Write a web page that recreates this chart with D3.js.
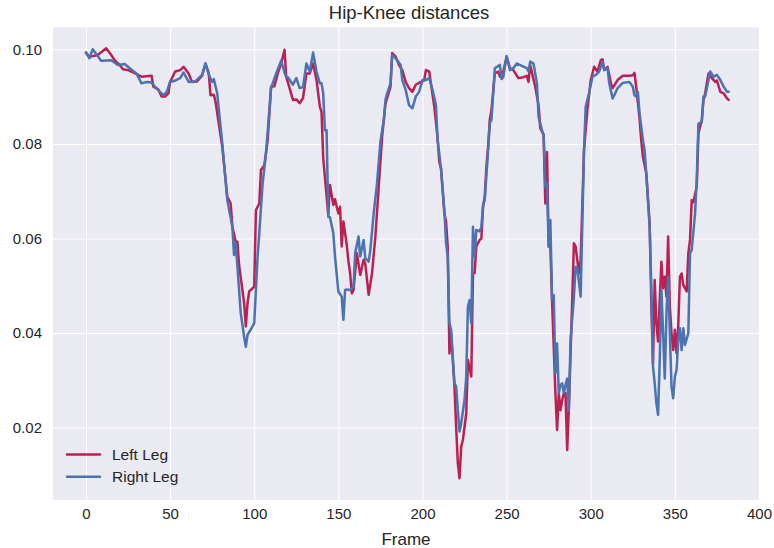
<!DOCTYPE html>
<html>
<head>
<meta charset="utf-8">
<script src="https://cdnjs.cloudflare.com/ajax/libs/d3/7.8.5/d3.min.js"></script>
<style>
  body { margin: 0; background: #fff; }
  text { font-family: "Liberation Sans", Arial, sans-serif; fill: #262626; }
</style>
</head>
<body>
<script>
// series labels + colours
var seriesNames = ["Left Leg", "Right Leg"];
var seriesColors = ["#bc2052", "#4c72b0"];

// [frame, distance]
var leftLeg = [[0,0.0993],[2,0.0984],[7,0.0988],[12,0.1002],[15,0.0988],[17,0.0977],[20,0.0967],[22,0.0958],[25,0.0956],[28,0.0951],[31,0.0946],[33,0.0942],[36,0.0943],[39,0.0944],[40,0.0921],[43,0.0915],[45,0.0900],[47,0.0900],[49,0.0907],[50,0.0931],[53,0.0953],[56,0.0956],[58,0.0963],[61,0.0949],[63,0.0931],[66,0.0932],[69,0.0944],[71,0.0970],[73,0.0949],[74,0.0903],[76,0.0904],[77,0.0889],[81,0.0794],[84,0.0688],[86,0.0674],[87,0.0625],[89,0.0593],[90,0.0593],[91,0.0544],[94,0.0463],[95,0.0414],[96,0.0463],[97,0.0488],[100,0.0498],[101,0.0660],[103,0.0674],[104,0.0745],[106,0.0755],[108,0.0808],[110,0.0921],[112,0.0922],[114,0.0949],[116,0.0970],[118,0.0999],[119,0.0942],[121,0.0918],[123,0.0893],[125,0.0894],[127,0.0886],[129,0.0897],[131,0.0949],[133,0.0949],[135,0.0970],[137,0.0935],[139,0.0879],[140,0.0867],[141,0.0770],[144,0.0650],[145,0.0713],[147,0.0671],[148,0.0683],[150,0.0653],[151,0.0667],[152,0.0583],[153,0.0636],[155,0.0586],[156,0.0551],[157,0.0526],[158,0.0484],[159,0.0491],[161,0.0569],[163,0.0523],[165,0.0555],[166,0.0547],[168,0.0481],[170,0.0526],[172,0.0604],[174,0.0710],[176,0.0815],[178,0.0885],[181,0.0921],[182,0.0992],[184,0.0985],[186,0.0967],[188,0.0956],[190,0.0931],[192,0.0918],[194,0.0910],[196,0.0925],[199,0.0931],[201,0.0934],[202,0.0956],[204,0.0953],[205,0.0928],[207,0.0879],[209,0.0812],[210,0.0762],[211,0.0748],[213,0.0653],[214,0.0636],[215,0.0583],[216,0.0357],[217,0.0400],[219,0.0287],[220,0.0202],[221,0.0125],[222,0.0093],[223,0.0160],[224,0.0174],[226,0.0230],[227,0.0343],[229,0.0308],[230,0.0526],[231,0.0527],[232,0.0583],[234,0.0597],[235,0.0600],[236,0.0667],[237,0.0688],[238,0.0752],[239,0.0794],[240,0.0851],[241,0.0872],[243,0.0949],[245,0.0953],[246,0.0942],[248,0.0953],[250,0.0984],[252,0.0960],[254,0.0956],[257,0.0939],[260,0.0941],[262,0.0944],[263,0.0931],[264,0.0967],[267,0.0921],[269,0.0882],[270,0.0833],[272,0.0819],[273,0.0674],[274,0.0783],[275,0.0583],[276,0.0583],[277,0.0470],[279,0.0273],[280,0.0195],[281,0.0273],[282,0.0237],[283,0.0258],[284,0.0273],[285,0.0273],[286,0.0153],[287,0.0244],[289,0.0470],[290,0.0590],[291,0.0583],[293,0.0526],[294,0.0555],[296,0.0787],[298,0.0872],[300,0.0935],[302,0.0963],[304,0.0953],[306,0.0977],[307,0.0979],[308,0.0956],[310,0.0963],[312,0.0928],[313,0.0918],[316,0.0935],[319,0.0944],[323,0.0944],[325,0.0945],[326,0.0950],[327,0.0921],[329,0.0854],[330,0.0808],[331,0.0773],[333,0.0738],[335,0.0632],[336,0.0463],[337,0.0336],[338,0.0512],[339,0.0421],[340,0.0382],[341,0.0470],[342,0.0551],[343,0.0495],[344,0.0519],[345,0.0477],[346,0.0604],[347,0.0456],[348,0.0400],[349,0.0364],[350,0.0407],[351,0.0357],[352,0.0414],[353,0.0519],[354,0.0526],[355,0.0502],[357,0.0488],[358,0.0569],[359,0.0597],[360,0.0681],[361,0.0677],[363,0.0710],[364,0.0822],[366,0.0851],[367,0.0893],[368,0.0907],[370,0.0949],[372,0.0939],[374,0.0931],[375,0.0934],[377,0.0910],[379,0.0907],[381,0.0896],[382,0.0893]];

var rightLeg = [[0,0.0993],[2,0.0981],[4,0.1000],[9,0.0976],[15,0.0977],[19,0.0967],[23,0.0969],[26,0.0960],[30,0.0949],[33,0.0928],[36,0.0931],[39,0.0930],[41,0.0921],[44,0.0910],[46,0.0903],[48,0.0910],[50,0.0931],[53,0.0934],[56,0.0939],[58,0.0951],[61,0.0931],[65,0.0932],[69,0.0946],[71,0.0970],[73,0.0946],[75,0.0931],[76,0.0937],[78,0.0907],[81,0.0801],[84,0.0681],[87,0.0625],[88,0.0565],[89,0.0590],[92,0.0442],[94,0.0392],[95,0.0371],[96,0.0396],[99,0.0414],[100,0.0421],[102,0.0562],[103,0.0611],[105,0.0717],[107,0.0780],[110,0.0918],[113,0.0949],[116,0.0976],[118,0.0951],[119,0.0942],[120,0.0941],[123,0.0925],[125,0.0939],[127,0.0918],[129,0.0920],[131,0.0970],[133,0.0953],[135,0.0993],[137,0.0953],[139,0.0928],[140,0.0928],[141,0.0907],[142,0.0829],[143,0.0829],[144,0.0646],[145,0.0645],[147,0.0611],[148,0.0562],[150,0.0488],[152,0.0477],[153,0.0428],[154,0.0491],[155,0.0492],[157,0.0491],[159,0.0498],[160,0.0569],[162,0.0604],[163,0.0562],[165,0.0597],[166,0.0558],[168,0.0551],[169,0.0576],[171,0.0653],[173,0.0717],[175,0.0805],[177,0.0850],[178,0.0893],[179,0.0907],[181,0.0928],[182,0.0988],[185,0.0977],[187,0.0967],[188,0.0935],[190,0.0914],[192,0.0882],[194,0.0875],[196,0.0900],[198,0.0910],[200,0.0935],[202,0.0935],[204,0.0939],[206,0.0914],[208,0.0882],[209,0.0808],[211,0.0748],[213,0.0660],[214,0.0590],[215,0.0562],[216,0.0421],[217,0.0407],[219,0.0294],[220,0.0287],[221,0.0237],[222,0.0192],[223,0.0209],[225,0.0259],[226,0.0308],[227,0.0456],[228,0.0470],[229,0.0421],[230,0.0625],[231,0.0562],[232,0.0618],[234,0.0615],[235,0.0625],[236,0.0671],[237,0.0681],[239,0.0787],[240,0.0843],[241,0.0851],[243,0.0960],[246,0.0967],[247,0.0937],[248,0.0941],[250,0.0986],[252,0.0956],[254,0.0960],[256,0.0970],[259,0.0965],[262,0.0960],[263,0.0953],[264,0.0974],[266,0.0970],[268,0.0928],[269,0.0857],[271,0.0829],[272,0.0819],[273,0.0710],[274,0.0717],[275,0.0583],[276,0.0639],[277,0.0470],[278,0.0480],[279,0.0315],[280,0.0378],[281,0.0273],[282,0.0290],[283,0.0294],[284,0.0273],[285,0.0290],[286,0.0304],[287,0.0237],[288,0.0385],[290,0.0477],[291,0.0540],[292,0.0537],[294,0.0477],[296,0.0787],[297,0.0879],[299,0.0907],[301,0.0942],[303,0.0946],[305,0.0953],[307,0.0974],[308,0.0956],[310,0.0960],[311,0.0928],[313,0.0896],[314,0.0903],[316,0.0918],[319,0.0929],[323,0.0931],[325,0.0921],[326,0.0903],[327,0.0900],[328,0.0910],[329,0.0865],[331,0.0808],[332,0.0787],[333,0.0738],[335,0.0625],[336,0.0498],[337,0.0329],[338,0.0294],[339,0.0252],[340,0.0227],[341,0.0343],[342,0.0491],[343,0.0400],[344,0.0304],[345,0.0442],[346,0.0519],[347,0.0400],[348,0.0287],[349,0.0262],[350,0.0308],[351,0.0322],[352,0.0385],[353,0.0410],[354,0.0364],[355,0.0410],[356,0.0375],[358,0.0400],[359,0.0569],[360,0.0576],[362,0.0653],[363,0.0724],[364,0.0843],[366,0.0846],[367,0.0900],[368,0.0900],[371,0.0953],[373,0.0942],[375,0.0946],[377,0.0935],[379,0.0921],[381,0.0910],[382,0.0910]];

// tick values
var xTicks = [0, 50, 100, 150, 200, 250, 300, 350, 400];
var yTicks = [0.02, 0.04, 0.06, 0.08, 0.10];

var chartTitle = "Hip-Knee distances";
var xLabel = "Frame";

function drawChart()
{
    var width = 774, height = 548;
    var plot = { left: 53, right: 759, top: 27.3, bottom: 500 };

    var svg = d3.select("body")
        .append("svg")
        .attr("width", width)
        .attr("height", height);

    var x = d3.scaleLinear().domain([-19.6, 400]).range([plot.left, plot.right]);
    var y = d3.scaleLinear().domain([0.00471, 0.10465]).range([plot.bottom, plot.top]);

    // seaborn darkgrid background
    svg.append("rect")
        .attr("x", plot.left)
        .attr("y", plot.top)
        .attr("width", plot.right - plot.left)
        .attr("height", plot.bottom - plot.top)
        .style("fill", "#eaeaf2");

    // grid via axes, labels drawn by the axis too
    var xAxis = d3.axisBottom(x)
        .tickValues(xTicks)
        .tickSize(-(plot.bottom - plot.top))
        .tickPadding(8)
        .tickFormat(d3.format("d"));

    var yAxis = d3.axisLeft(y)
        .tickValues(yTicks)
        .tickSize(-(plot.right - plot.left))
        .tickPadding(11)
        .tickFormat(d3.format(".2f"));

    var gx = svg.append("g")
        .attr("transform", "translate(0," + plot.bottom + ")")
        .call(xAxis);

    var gy = svg.append("g")
        .attr("transform", "translate(" + plot.left + ",0)")
        .call(yAxis);

    [gx, gy].forEach(g => {
        g.select(".domain").remove();
        g.selectAll("line").style("stroke", "#fff").style("stroke-width", 1);
        g.selectAll("text")
            .style("font-size", "15px")
            .style("font-family", "'Liberation Sans', Arial, sans-serif")
            .style("fill", "#262626");
    });

    var line = d3.line()
        .x(d => x(d[0]))
        .y(d => y(d[1]));

    var clip = svg.append("clipPath").attr("id", "plotClip")
        .append("rect")
        .attr("x", plot.left).attr("y", plot.top)
        .attr("width", plot.right - plot.left)
        .attr("height", plot.bottom - plot.top);

    svg.append("g")
        .attr("clip-path", "url(#plotClip)")
        .selectAll("path.series")
        .data([leftLeg, rightLeg])
        .enter()
        .append("path")
        .attr("class", "series")
        .attr("d", line)
        .style("fill", "none")
        .style("stroke", (d, i) => seriesColors[i])
        .style("stroke-width", 2.5)
        .style("stroke-linejoin", "round")
        .style("stroke-linecap", "round");

    // legend, no frame (seaborn style)
    var legend = svg.append("g")
        .selectAll("g")
        .data(seriesNames)
        .enter()
        .append("g")
        .attr("transform", (d, i) => "translate(67," + (454.5 + i * 22.3) + ")");

    legend.append("line")
        .attr("x1", 0).attr("x2", 33)
        .style("stroke", (d, i) => seriesColors[i])
        .style("stroke-width", 2.5)
        .style("stroke-linecap", "round");

    legend.append("text")
        .attr("x", 45)
        .attr("dy", "0.35em")
        .style("font-size", "15.5px")
        .text(d => d);

    svg.append("text")
        .attr("x", (plot.left + plot.right) / 2 + 3)
        .attr("y", 18.5)
        .style("text-anchor", "middle")
        .style("font-size", "18.5px")
        .text(chartTitle);

    svg.append("text")
        .attr("x", (plot.left + plot.right) / 2)
        .attr("y", 544.5)
        .style("text-anchor", "middle")
        .style("font-size", "17px")
        .text(xLabel);
}

drawChart();
</script>
</body>
</html>
